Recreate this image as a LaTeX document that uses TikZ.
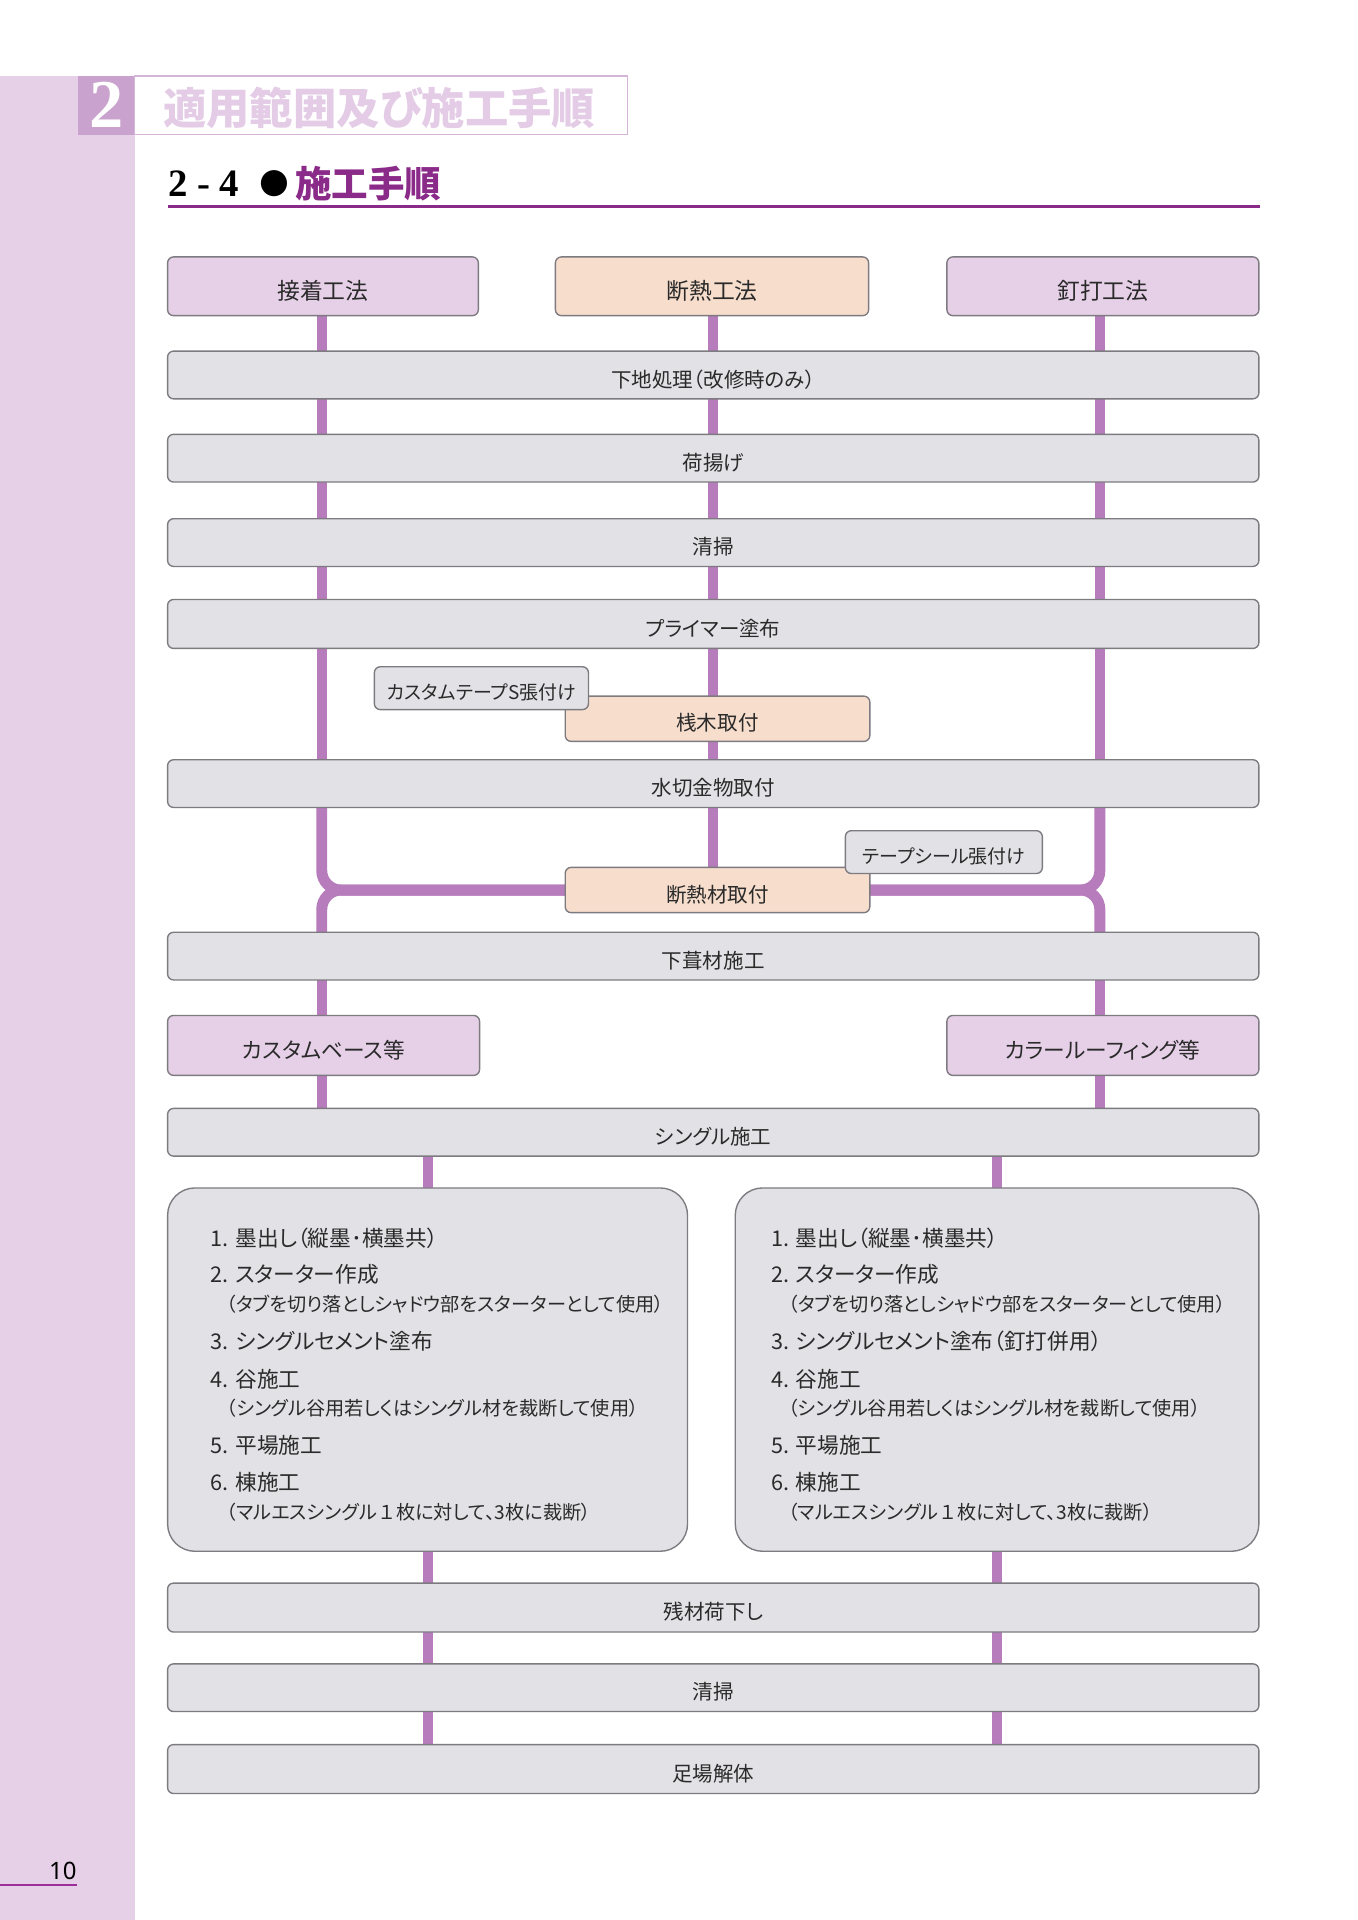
\documentclass[tikz,border=0pt]{standalone}
\usepackage{fontspec}
\setmainfont{Noto Sans CJK JP}[RawFeature=+palt]
\newfontfamily\serifbf{Liberation Serif}
\newfontfamily\djv{DejaVu Sans}
\newfontfamily\nsans{Noto Sans}
\pgfdeclarelayer{pagebg}
\pgfdeclarelayer{conns}
\pgfsetlayers{pagebg,conns,main}
\definecolor{band}{HTML}{E6D0E7}
\definecolor{sq}{HTML}{C9A2CD}
\definecolor{hdtxt}{HTML}{E4CCE7}
\definecolor{hdline}{HTML}{D4B4D7}
\definecolor{ttl}{HTML}{8B2B89}
\definecolor{purfill}{HTML}{E6D0E8}
\definecolor{peach}{HTML}{F6DDCC}
\definecolor{grayfill}{HTML}{E2E1E6}
\definecolor{boxline}{HTML}{7D7A80}
\definecolor{connc}{HTML}{B67CBB}
\definecolor{txt}{HTML}{2A2A2A}
\definecolor{pgline}{HTML}{9C2E99}
\newcommand{\mkbox}[7]{%
 \pgfmathsetmacro\mbcx{(#3+#5)/2}%
 \pgfmathsetmacro\mbcy{(#4+#6)/2}%
 \pgfmathsetmacro\mbw{(#5-#3)*0.5363}%
 \pgfmathsetmacro\mbh{(#6-#4)*0.5363}%
 \node[#2, minimum width=\mbw pt, minimum height=\mbh pt] (#1) at (\mbcx,\mbcy) {\raisebox{-1.9pt}[\height][\depth]{#7}};}
\newcommand{\fwone}{{\addfontfeature{RawFeature=-palt}１}}
\begin{document}
\begin{tikzpicture}[x=0.5363pt,y=-0.5363pt,
  box/.style={draw=boxline, line width=0.6pt, rounded corners=2.6pt, inner sep=0pt, outer sep=0pt, text=txt, font=\fontsize{9}{10}\selectfont},
  graybox/.style={box, fill=grayfill},
  purbox/.style={box, fill=purfill, font=\fontsize{10}{11}\selectfont},
  peachbox/.style={box, fill=peach},
  smallbox/.style={box, fill=grayfill, font=\fontsize{8.3}{9}\selectfont},
  bigbox/.style={box, fill=grayfill, rounded corners=12pt},
  item/.style={anchor=west, inner sep=0pt, text=txt, font=\fontsize{9.5}{10}\selectfont},
  subitem/.style={anchor=west, inner sep=0pt, text=txt, font=\fontsize{8.4}{9}\selectfont},
  conn/.style={draw=connc, line width=4.4pt},
  bar/.style={draw=connc, line width=4.8pt, rounded corners=8.5pt}]
\useasboundingbox (0,0) rectangle (1110,1569.4);
\begin{pgfonlayer}{pagebg}
\fill[white] (0,0) rectangle (1110,1569.4);
\fill[band] (0,62) rectangle (110,1569.4);
\end{pgfonlayer}
% header
\node[fill=sq, inner sep=0pt, outer sep=0pt, minimum width=24.67pt, minimum height=25.74pt, text=white, font=\serifbf\bfseries\fontsize{30}{30}\selectfont] (hsq) at (87,86) {2};
\node[draw=hdline, line width=0.7pt, fill=white, inner sep=0pt, outer sep=0pt, minimum width=216.1pt, minimum height=25.74pt] (htl) at (311.5,86) {};
\node[anchor=west, inner sep=0pt, text=hdtxt, font=\bfseries\fontsize{19}{19}\selectfont] (htx) at (133,88) {適用範囲及び施工手順};
\node[anchor=west, inner sep=0pt, font=\serifbf\bfseries\fontsize{17}{17}\selectfont] (sn) at (137,150) {2 - 4};
\node[inner sep=0pt, font=\djv\fontsize{15}{15}\selectfont] (dot) at (224,150) {●};
\node[anchor=west, inner sep=0pt, text=ttl, font=\bfseries\fontsize{16}{16}\selectfont] (stl) at (241,150) {施工手順};
\draw[ttl, line width=1.2pt] (137,168.5) -- (1030,168.5);
% page number
\node[anchor=south east, inner sep=0pt, font=\nsans\fontsize{10.5}{10.5}\selectfont] (pg) at (63,1537) {10};
\draw[pgline, line width=0.8pt] (0,1541) -- (63,1541);
% columns
\coordinate (cL) at (263,0);
\coordinate (cM) at (583,0);
\coordinate (cR) at (899,0);
% boxes
\mkbox{m1}{purbox}{137}{210}{391}{258}{接着工法}
\mkbox{m2}{purbox, fill=peach}{454}{210}{710}{258}{断熱工法}
\mkbox{m3}{purbox}{774}{210}{1029}{258}{釘打工法}
\mkbox{s1}{graybox}{137}{287}{1029}{326}{下地処理（改修時のみ）}
\mkbox{s2}{graybox}{137}{355}{1029}{394}{荷揚げ}
\mkbox{s3}{graybox}{137}{424}{1029}{463}{清掃}
\mkbox{s4}{graybox}{137}{490}{1029}{530}{プライマー塗布}
\mkbox{sa}{peachbox}{462}{569}{711}{606}{桟木取付}
\mkbox{ct}{smallbox}{306}{545}{481}{580}{カスタムテープS張付け}
\mkbox{s5}{graybox}{137}{621}{1029}{660}{水切金物取付}
\mkbox{dn}{peachbox}{462}{709}{711}{746}{断熱材取付}
\mkbox{ts}{smallbox}{691}{679}{852}{714}{テープシール張付け}
\mkbox{s6}{graybox}{137}{762}{1029}{801}{下葺材施工}
\mkbox{b1}{purbox, font=\fontsize{9.5}{10}\selectfont}{137}{830}{392}{879}{カスタムベース等}
\mkbox{b2}{purbox, font=\fontsize{9.5}{10}\selectfont}{774}{830}{1029}{879}{カラールーフィング等}
\mkbox{s7}{graybox}{137}{906}{1029}{945}{シングル施工}
\mkbox{bl}{bigbox}{137}{971}{562}{1268}{}
\mkbox{br}{bigbox}{601}{971}{1029}{1268}{}
\mkbox{s8}{graybox}{137}{1294}{1029}{1334}{残材荷下し}
\mkbox{s9}{graybox}{137}{1360}{1029}{1399}{清掃}
\mkbox{s10}{graybox}{137}{1426}{1029}{1466}{足場解体}
% items left
\node[item] (l1) at (172,1012) {1. 墨出し（縦墨･横墨共）};
\node[item] (l2) at (172,1042) {2. スターター作成};
\node[subitem] (l3) at (185,1066) {（タブを切り落としシャドウ部をスターターとして使用）};
\node[item] (l4) at (172,1096.5) {3. シングルセメント塗布};
\node[item] (l5) at (172,1127) {4. 谷施工};
\node[subitem] (l6) at (185,1151) {（シングル谷用若しくはシングル材を裁断して使用）};
\node[item] (l7) at (172,1181.5) {5. 平場施工};
\node[item] (l8) at (172,1211.5) {6. 棟施工};
\node[subitem] (l9) at (185,1236) {（マルエスシングル\fwone 枚に対して、3枚に裁断）};
% items right
\node[item] (r1) at (630,1012) {1. 墨出し（縦墨･横墨共）};
\node[item] (r2) at (630,1042) {2. スターター作成};
\node[subitem] (r3) at (644,1066) {（タブを切り落としシャドウ部をスターターとして使用）};
\node[item] (r4) at (630,1096.5) {3. シングルセメント塗布（釘打併用）};
\node[item] (r5) at (630,1127) {4. 谷施工};
\node[subitem] (r6) at (644,1151) {（シングル谷用若しくはシングル材を裁断して使用）};
\node[item] (r7) at (630,1181.5) {5. 平場施工};
\node[item] (r8) at (630,1211.5) {6. 棟施工};
\node[subitem] (r9) at (644,1236) {（マルエスシングル\fwone 枚に対して、3枚に裁断）};
% connectors
\begin{pgfonlayer}{conns}
\foreach \c in {cL,cM,cR}{
  \draw[conn] (\c |- m1.south) -- (\c |- s1.north);
  \draw[conn] (\c |- s1.south) -- (\c |- s2.north);
  \draw[conn] (\c |- s2.south) -- (\c |- s3.north);
  \draw[conn] (\c |- s3.south) -- (\c |- s4.north);
}
\draw[conn] (cL |- s4.south) -- (cL |- s5.north);
\draw[conn] (cR |- s4.south) -- (cR |- s5.north);
\draw[conn] (cM |- s4.south) -- (cM |- sa.north);
\draw[conn] (cM |- sa.south) -- (cM |- s5.north);
\draw[conn] (cM |- s5.south) -- (cM |- dn.north);
\draw[bar] (cL |- s5.south) -- (cL |- dn.west) -- (dn.west);
\draw[bar] (dn.west) -- (cL |- dn.west) -- (cL |- s6.north);
\draw[bar] (cR |- s5.south) -- (cR |- dn.east) -- (dn.east);
\draw[bar] (dn.east) -- (cR |- dn.east) -- (cR |- s6.north);
\draw[conn] (cL |- s6.south) -- (cL |- b1.north);
\draw[conn] (cR |- s6.south) -- (cR |- b2.north);
\draw[conn] (cL |- b1.south) -- (cL |- s7.north);
\draw[conn] (cR |- b2.south) -- (cR |- s7.north);
\foreach \b in {bl,br}{
  \draw[conn] (\b.north |- s7.south) -- (\b.north);
  \draw[conn] (\b.south) -- (\b.south |- s8.north);
  \draw[conn] (\b.south |- s8.south) -- (\b.south |- s9.north);
  \draw[conn] (\b.south |- s9.south) -- (\b.south |- s10.north);
}
\end{pgfonlayer}
\end{tikzpicture}
\end{document}
